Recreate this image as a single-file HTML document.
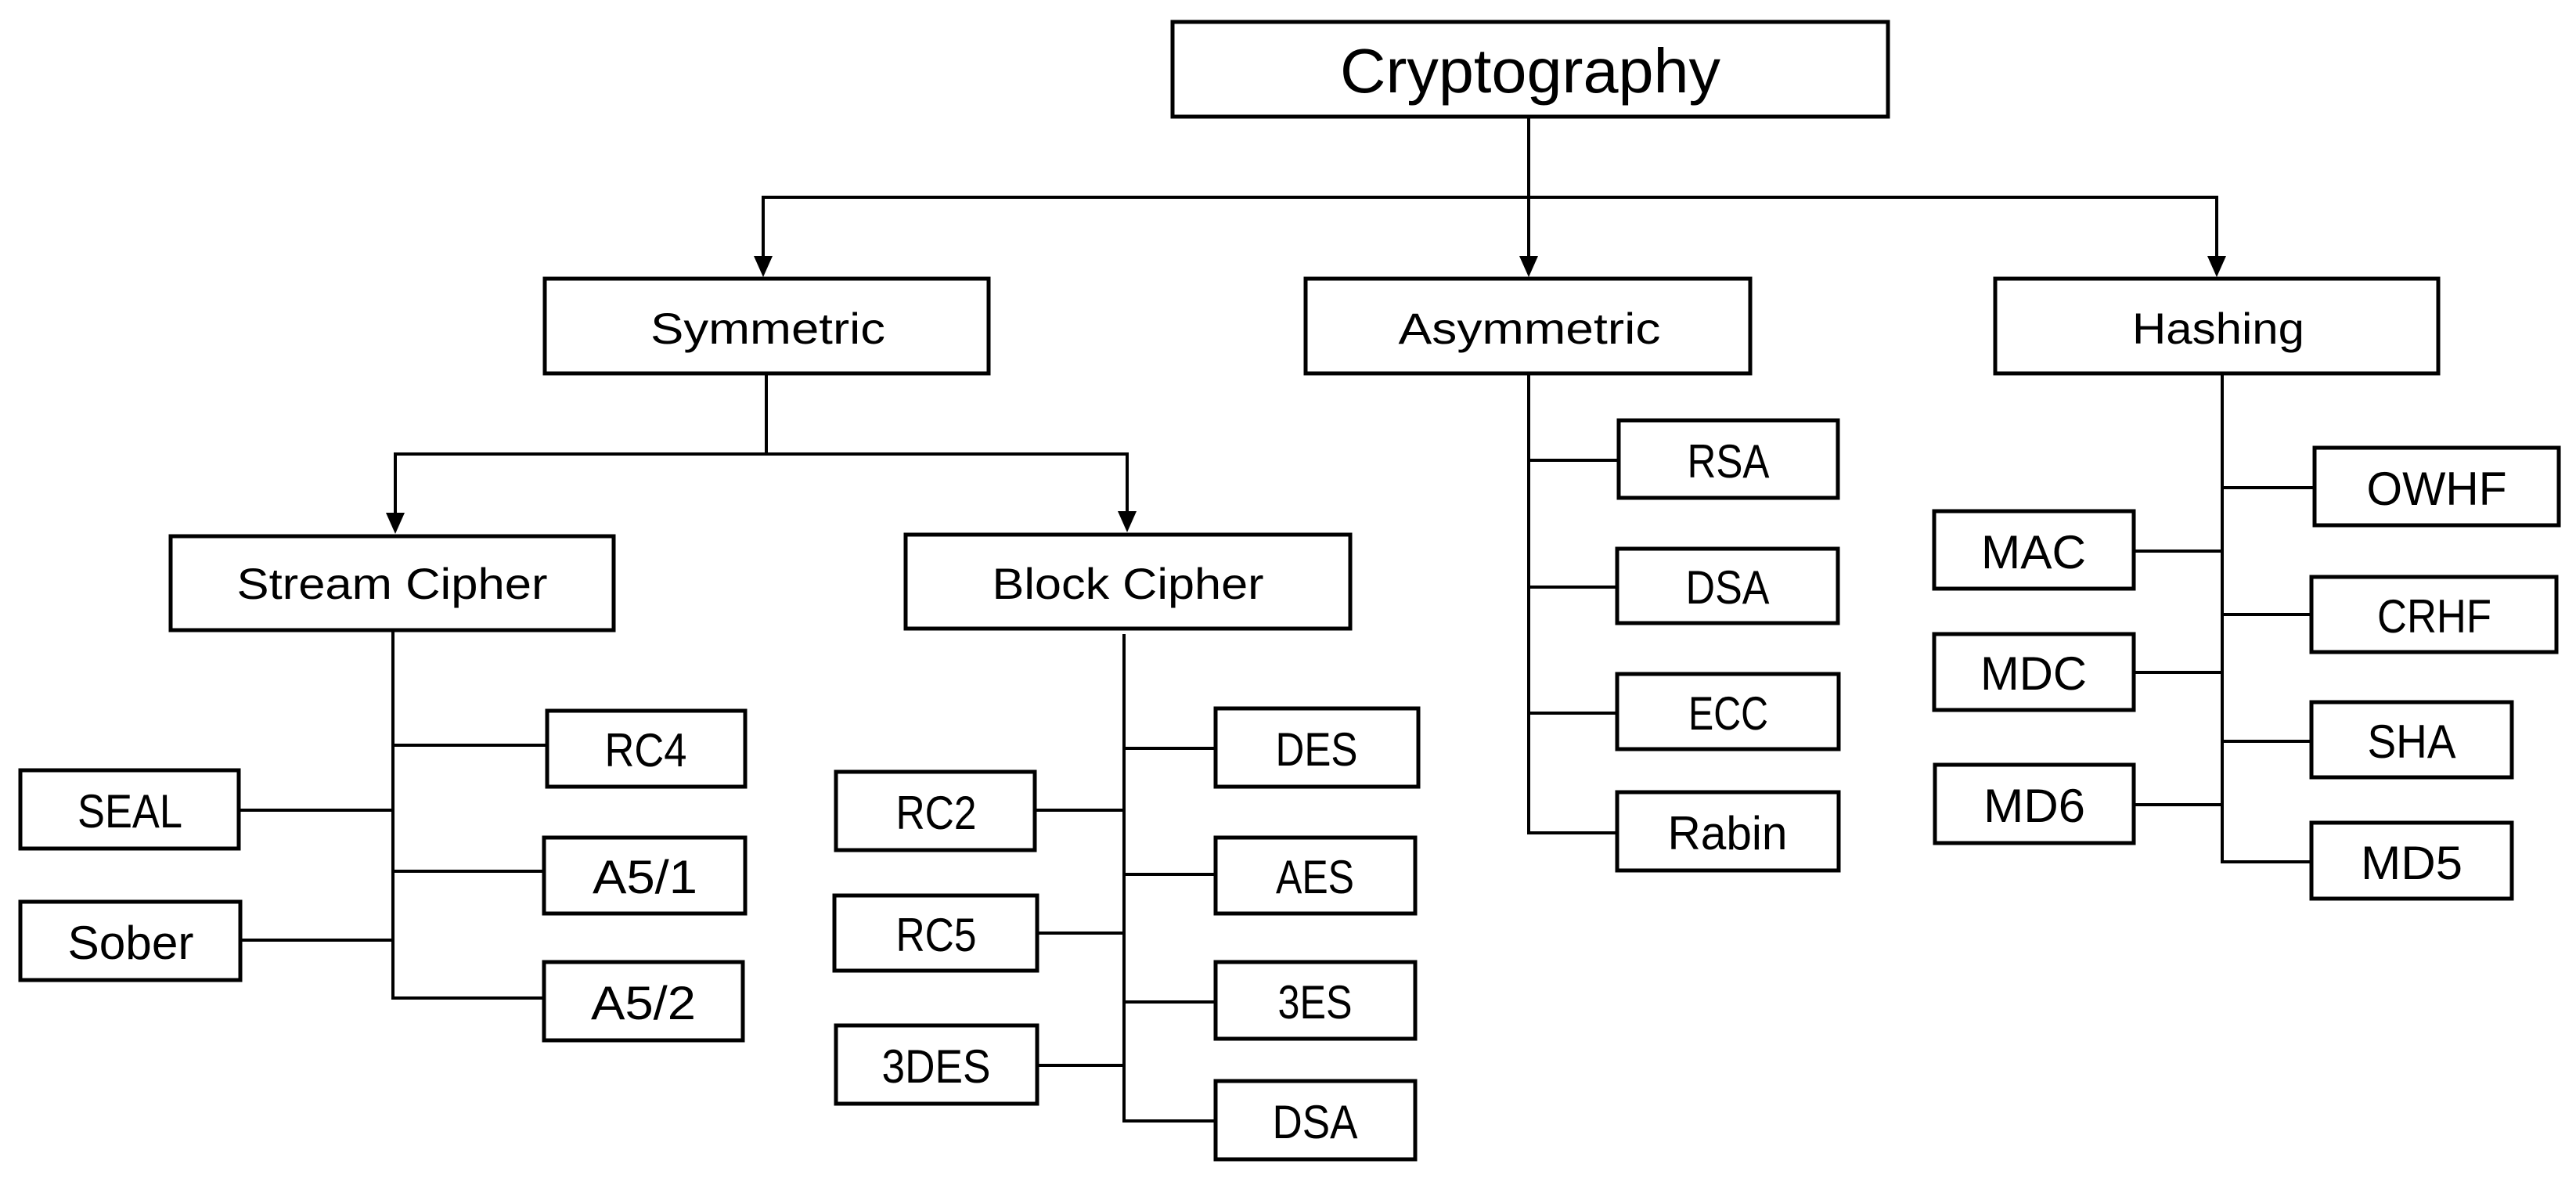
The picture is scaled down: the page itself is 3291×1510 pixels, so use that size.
<!DOCTYPE html>
<html><head><meta charset="utf-8"><style>
html,body{margin:0;padding:0;background:#fff;}
svg{display:block;}
text{font-family:"Liberation Sans",sans-serif;fill:#000;}
</style></head><body>
<svg width="3291" height="1510" viewBox="0 0 3291 1510" xmlns="http://www.w3.org/2000/svg">
<g fill="#fff" stroke="#000" stroke-width="5">
<rect x="1498" y="28" width="914" height="121"/>
<rect x="696" y="356" width="567" height="121"/>
<rect x="1668" y="356" width="568" height="121"/>
<rect x="2549" y="356" width="566" height="121"/>
<rect x="218" y="685" width="566" height="120"/>
<rect x="1157" y="683" width="568" height="120"/>
<!-- stream -->
<rect x="699" y="908" width="253" height="97"/>
<rect x="26" y="984" width="279" height="100"/>
<rect x="695" y="1070" width="257" height="97"/>
<rect x="26" y="1152" width="281" height="100"/>
<rect x="695" y="1229" width="254" height="100"/>
<!-- block -->
<rect x="1553" y="905" width="259" height="100"/>
<rect x="1068" y="986" width="254" height="100"/>
<rect x="1553" y="1070" width="255" height="97"/>
<rect x="1066" y="1144" width="259" height="96"/>
<rect x="1553" y="1229" width="255" height="98"/>
<rect x="1068" y="1310" width="257" height="100"/>
<rect x="1553" y="1381" width="255" height="100"/>
<!-- asym -->
<rect x="2068" y="537" width="280" height="99"/>
<rect x="2066" y="701" width="282" height="95"/>
<rect x="2066" y="861" width="283" height="96"/>
<rect x="2066" y="1012" width="283" height="100"/>
<!-- hash -->
<rect x="2957" y="572" width="312" height="99"/>
<rect x="2471" y="653" width="255" height="99"/>
<rect x="2953" y="737" width="313" height="96"/>
<rect x="2471" y="810" width="255" height="97"/>
<rect x="2953" y="897" width="256" height="96"/>
<rect x="2472" y="977" width="254" height="100"/>
<rect x="2953" y="1051" width="256" height="97"/>
</g>
<g stroke="#000" stroke-width="4" fill="none">
<line x1="1953" y1="150" x2="1953" y2="330"/>
<polyline points="975,330 975,252 2832,252 2832,330"/>
<line x1="979" y1="479" x2="979" y2="580"/>
<polyline points="505,658 505,580 1440,580 1440,658"/>
<!-- stream -->
<line x1="502" y1="807" x2="502" y2="1275"/>
<line x1="502" y1="952" x2="697" y2="952"/>
<line x1="307" y1="1035" x2="502" y2="1035"/>
<line x1="502" y1="1113" x2="693" y2="1113"/>
<line x1="309" y1="1201" x2="502" y2="1201"/>
<line x1="500" y1="1275" x2="693" y2="1275"/>
<!-- block -->
<line x1="1436" y1="810" x2="1436" y2="1434"/>
<line x1="1436" y1="956" x2="1551" y2="956"/>
<line x1="1324" y1="1035" x2="1436" y2="1035"/>
<line x1="1436" y1="1117" x2="1551" y2="1117"/>
<line x1="1327" y1="1192" x2="1436" y2="1192"/>
<line x1="1436" y1="1280" x2="1551" y2="1280"/>
<line x1="1327" y1="1361" x2="1436" y2="1361"/>
<line x1="1434" y1="1432" x2="1551" y2="1432"/>
<!-- asym -->
<line x1="1953" y1="479" x2="1953" y2="1066"/>
<line x1="1953" y1="588" x2="2066" y2="588"/>
<line x1="1953" y1="750" x2="2064" y2="750"/>
<line x1="1953" y1="911" x2="2064" y2="911"/>
<line x1="1951" y1="1064" x2="2064" y2="1064"/>
<!-- hash -->
<line x1="2839" y1="479" x2="2839" y2="1103"/>
<line x1="2839" y1="623" x2="2955" y2="623"/>
<line x1="2728" y1="704" x2="2839" y2="704"/>
<line x1="2839" y1="785" x2="2951" y2="785"/>
<line x1="2728" y1="859" x2="2839" y2="859"/>
<line x1="2839" y1="947" x2="2951" y2="947"/>
<line x1="2728" y1="1028" x2="2839" y2="1028"/>
<line x1="2837" y1="1101" x2="2951" y2="1101"/>
</g>
<g fill="#000">
<polygon points="963,327 987,327 975,354"/>
<polygon points="1941,327 1965,327 1953,354"/>
<polygon points="2820,327 2844,327 2832,354"/>
<polygon points="493,655 517,655 505,682"/>
<polygon points="1428,653 1452,653 1440,680"/>
</g>
<g text-anchor="middle" font-size="60" lengthAdjust="spacingAndGlyphs">
<text x="1955" y="118" font-size="80" textLength="486" lengthAdjust="spacingAndGlyphs">Cryptography</text>
<text x="981" y="439" font-size="56" textLength="300" lengthAdjust="spacingAndGlyphs">Symmetric</text>
<text x="1954" y="439" font-size="56" textLength="335" lengthAdjust="spacingAndGlyphs">Asymmetric</text>
<text x="2834" y="439" font-size="56" textLength="220" lengthAdjust="spacingAndGlyphs">Hashing</text>
<text x="501" y="765" font-size="56" textLength="397" lengthAdjust="spacingAndGlyphs">Stream Cipher</text>
<text x="1441" y="765" font-size="56" textLength="347" lengthAdjust="spacingAndGlyphs">Block Cipher</text>
<text x="825" y="979" textLength="105" lengthAdjust="spacingAndGlyphs">RC4</text>
<text x="166" y="1057" textLength="134" lengthAdjust="spacingAndGlyphs">SEAL</text>
<text x="824" y="1141" textLength="134" lengthAdjust="spacingAndGlyphs">A5/1</text>
<text x="167" y="1225" textLength="161" lengthAdjust="spacingAndGlyphs">Sober</text>
<text x="822" y="1302" textLength="134" lengthAdjust="spacingAndGlyphs">A5/2</text>
<text x="1682" y="978" textLength="105" lengthAdjust="spacingAndGlyphs">DES</text>
<text x="1196" y="1059" textLength="103" lengthAdjust="spacingAndGlyphs">RC2</text>
<text x="1680" y="1141" textLength="100" lengthAdjust="spacingAndGlyphs">AES</text>
<text x="1196" y="1215" textLength="103" lengthAdjust="spacingAndGlyphs">RC5</text>
<text x="1680" y="1301" textLength="95" lengthAdjust="spacingAndGlyphs">3ES</text>
<text x="1196" y="1383" textLength="139" lengthAdjust="spacingAndGlyphs">3DES</text>
<text x="1680" y="1454" textLength="109" lengthAdjust="spacingAndGlyphs">DSA</text>
<text x="2208" y="610" textLength="105" lengthAdjust="spacingAndGlyphs">RSA</text>
<text x="2207" y="771" textLength="107" lengthAdjust="spacingAndGlyphs">DSA</text>
<text x="2208" y="932" textLength="102" lengthAdjust="spacingAndGlyphs">ECC</text>
<text x="2207" y="1085" textLength="153" lengthAdjust="spacingAndGlyphs">Rabin</text>
<text x="3113" y="645" textLength="179" lengthAdjust="spacingAndGlyphs">OWHF</text>
<text x="2598" y="726" textLength="134" lengthAdjust="spacingAndGlyphs">MAC</text>
<text x="3110" y="808" textLength="146" lengthAdjust="spacingAndGlyphs">CRHF</text>
<text x="2598" y="881" textLength="136" lengthAdjust="spacingAndGlyphs">MDC</text>
<text x="3081" y="968" textLength="113" lengthAdjust="spacingAndGlyphs">SHA</text>
<text x="2599" y="1050" textLength="130" lengthAdjust="spacingAndGlyphs">MD6</text>
<text x="3081" y="1123" textLength="130" lengthAdjust="spacingAndGlyphs">MD5</text>
</g>
</svg>
</body></html>
